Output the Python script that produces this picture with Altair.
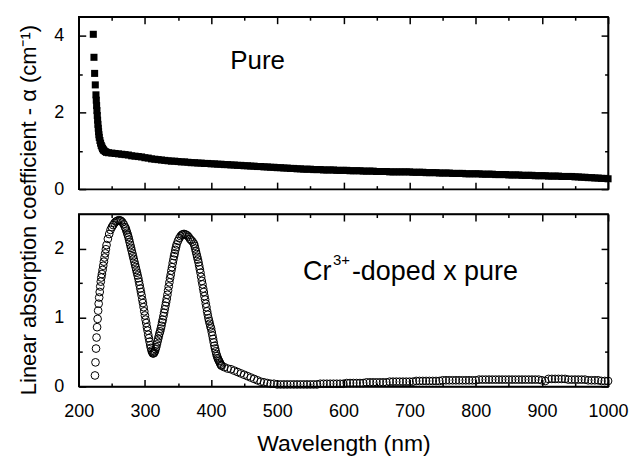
import altair as alt
import pandas as pd

FONT = "Liberation Sans"

# ---------------- axis tick values ----------------
x_ticks = [200, 250, 300, 350, 400, 450, 500, 550, 600, 650, 700, 750, 800, 850, 900, 950, 1000]
top_y_ticks = [0, 1, 2, 3, 4]
bot_y_ticks = [0, 0.5, 1, 1.5, 2]

# ---------------- Pure sample (filled squares) ----------------
pure_edge = [
    (222, 4.04), (223, 3.44), (224, 3.02), (225, 2.72), (226, 2.46), (226.5, 2.32),
    (227, 2.18), (227.5, 2.05), (228, 1.92), (228.5, 1.80), (229, 1.69), (229.5, 1.59),
    (230, 1.50), (230.5, 1.42), (231, 1.35), (232, 1.27), (233, 1.20), (234, 1.14),
    (235, 1.10), (236, 1.06), (237, 1.03), (238, 1.01), (240, 0.98), (242, 0.96),
    (245, 0.95),
]
pure_grid_nm = list(range(250, 1001, 5))
pure_grid_val = [
    0.94, 0.93, 0.92, 0.91, 0.90, 0.89, 0.87, 0.86, 0.85, 0.84,
    0.82, 0.81, 0.79, 0.78, 0.77, 0.76, 0.75, 0.74, 0.73, 0.73,
    0.72, 0.71, 0.71, 0.70, 0.69, 0.69, 0.68, 0.68, 0.67, 0.67,
    0.66, 0.66, 0.65, 0.65, 0.64, 0.64, 0.63, 0.63, 0.62, 0.62,
    0.61, 0.61, 0.60, 0.60, 0.59, 0.59, 0.58, 0.58, 0.57, 0.57,
    0.56, 0.56, 0.55, 0.55, 0.54, 0.54, 0.53, 0.53, 0.52, 0.52,
    0.52, 0.51, 0.51, 0.51, 0.50, 0.50, 0.50, 0.50, 0.49, 0.49,
    0.49, 0.49, 0.48, 0.48, 0.48, 0.48, 0.47, 0.47, 0.47, 0.47,
    0.46, 0.46, 0.46, 0.46, 0.45, 0.45, 0.45, 0.45, 0.45, 0.45,
    0.45, 0.44, 0.44, 0.44, 0.44, 0.43, 0.43, 0.43, 0.43, 0.42,
    0.42, 0.42, 0.42, 0.41, 0.41, 0.41, 0.41, 0.40, 0.40, 0.40,
    0.40, 0.40, 0.39, 0.39, 0.39, 0.39, 0.38, 0.38, 0.38, 0.38,
    0.37, 0.37, 0.37, 0.37, 0.36, 0.36, 0.36, 0.36, 0.35, 0.35,
    0.35, 0.35, 0.34, 0.34, 0.34, 0.34, 0.33, 0.33, 0.33, 0.33,
    0.32, 0.32, 0.31, 0.31, 0.30, 0.30, 0.29, 0.29, 0.28, 0.28,
    0.27,
]

# ---------------- Cr3+-doped x pure (open circles) ----------------
doped_peaks = [
    (224.5, 0.16), (225.3, 0.35), (226.1, 0.55), (226.9, 0.71), (227.7, 0.86),
    (228.5, 0.98), (229.3, 1.10), (230.1, 1.20), (230.9, 1.29), (231.7, 1.37),
    (232.5, 1.45), (233.3, 1.52), (234.1, 1.58), (235, 1.63), (236, 1.69),
    (237, 1.75), (238, 1.81), (239, 1.87), (240, 1.93), (241, 1.99), (242, 2.05),
    (244, 2.14), (246, 2.21), (248, 2.27), (250, 2.31), (252, 2.34), (254, 2.37),
    (256, 2.39), (258, 2.40), (260, 2.41), (262, 2.41), (264, 2.40), (266, 2.38),
    (268, 2.35), (270, 2.31), (271, 2.29), (272, 2.26), (273, 2.23), (274, 2.20),
    (275, 2.17), (276, 2.13), (277, 2.09), (278, 2.05), (279, 2.01), (280, 1.97),
    (281, 1.93), (282, 1.89), (283, 1.85), (284, 1.81), (285, 1.77), (286, 1.73),
    (287, 1.69), (288, 1.65), (289, 1.61), (290, 1.57), (291, 1.52), (292, 1.47),
    (293, 1.42), (294, 1.37), (295, 1.32), (296, 1.26), (297, 1.21), (298, 1.15),
    (299, 1.09), (300, 1.03), (301, 0.97), (302, 0.92), (303, 0.86), (304, 0.81),
    (305, 0.75), (306, 0.70), (307, 0.65), (308, 0.60), (309, 0.56), (310, 0.52),
    (311, 0.50), (312, 0.48), (313, 0.48), (314, 0.49), (315, 0.51), (316, 0.54),
    (317, 0.57), (318, 0.61), (319, 0.65), (320, 0.69), (321, 0.73), (322, 0.77),
    (323, 0.80), (324, 0.84), (325, 0.88), (326, 0.93), (327, 0.97), (328, 1.02),
    (329, 1.07), (330, 1.12), (331, 1.17), (332, 1.22), (333, 1.27), (334, 1.33),
    (335, 1.39), (336, 1.45), (337, 1.51), (338, 1.57), (339, 1.62), (340, 1.68),
    (341, 1.73), (342, 1.79), (343, 1.84), (344, 1.89), (345, 1.93), (346, 1.98),
    (347, 2.02), (348, 2.06), (350, 2.11), (352, 2.15), (354, 2.18), (356, 2.20),
    (358, 2.21), (360, 2.21), (362, 2.20), (364, 2.19), (366, 2.17), (368, 2.14),
    (370, 2.12), (372, 2.10), (374, 2.07), (375, 2.04), (376, 2.00), (377, 1.96),
    (378, 1.92), (379, 1.88), (380, 1.84), (381, 1.80), (382, 1.75), (383, 1.70),
    (384, 1.65), (385, 1.59), (386, 1.53), (387, 1.48), (388, 1.42), (389, 1.37),
    (390, 1.31), (391, 1.26), (392, 1.20), (393, 1.15), (394, 1.09), (395, 1.04),
    (396, 0.99), (397, 0.95), (398, 0.91), (399, 0.87), (400, 0.84), (401, 0.79),
    (402, 0.74), (403, 0.69), (404, 0.64), (405, 0.59), (406, 0.55), (407, 0.51),
    (408, 0.47), (409, 0.44), (410, 0.41), (411, 0.39), (412, 0.37), (413, 0.35),
    (414, 0.33), (415, 0.31), (416, 0.30),
]
doped_tail_nm = list(range(420, 1001, 5))
doped_tail_val = [
    0.28, 0.26, 0.25, 0.23, 0.21, 0.19,
    0.17, 0.15, 0.13, 0.11, 0.09, 0.07, 0.06, 0.05, 0.04, 0.04,
    0.03, 0.03, 0.03, 0.03, 0.03, 0.03, 0.03, 0.03, 0.03, 0.03,
    0.03, 0.03, 0.03, 0.04, 0.04, 0.04, 0.04, 0.04, 0.04, 0.04,
    0.04, 0.05, 0.05, 0.05, 0.05, 0.05, 0.05, 0.06, 0.06, 0.06,
    0.06, 0.06, 0.06, 0.06, 0.07, 0.07, 0.07, 0.07, 0.07, 0.07,
    0.07, 0.07, 0.08, 0.08, 0.08, 0.08, 0.08, 0.08, 0.08, 0.08,
    0.09, 0.09, 0.09, 0.09, 0.09, 0.09, 0.09, 0.09, 0.09, 0.09,
    0.09, 0.10, 0.10, 0.10, 0.10, 0.10, 0.10, 0.10, 0.10, 0.10,
    0.10, 0.10, 0.10, 0.10, 0.10, 0.10, 0.10, 0.10, 0.10, 0.10,
    0.09, 0.08, 0.11, 0.11, 0.11, 0.11, 0.11, 0.11, 0.10, 0.10,
    0.10, 0.10, 0.10, 0.10, 0.09, 0.09, 0.09, 0.09, 0.08, 0.08,
    0.08,
]

pure = pd.DataFrame(pure_edge + list(zip(pure_grid_nm, pure_grid_val)), columns=["nm", "alpha"])
doped = pd.DataFrame(doped_peaks + list(zip(doped_tail_nm, doped_tail_val)), columns=["nm", "alpha"])

# annotation anchors (data coordinates)
ann_top = pd.DataFrame({"nm": [429], "alpha": [3.14], "text": ["Pure"]})
ann_bot = pd.DataFrame({"nm": [539], "alpha": [1.54]})

X_DOMAIN = [200, 1000]
W, H = 531, 173

def tsize(test):
    return alt.ExprRef(expr=f"({test}) ? -7 : -3.5")

X_TEST = "datum.value % 100 === 0"
TOP_TEST = "datum.value % 2 === 0"
BOT_TEST = "datum.value % 1 === 0"

common = dict(
    grid=False, domainColor="black", domainWidth=1.5, tickColor="black", tickWidth=1.5,
    labelFont=FONT, labelFontSize=18, labelColor="black", labelFlush=False,
    titleFont=FONT, titleColor="black", titleFontWeight="normal",
)
Y_LABEL_PAD = 22

def xscale():
    return alt.Scale(domain=X_DOMAIN, nice=False, zero=False)

# ---------------- top panel ----------------
top_scale_y = alt.Scale(domain=[0, 4.5], nice=False)
top_pts = alt.Chart(pure).mark_square(size=50, color="black", opacity=1).encode(
    x=alt.X("nm:Q", scale=xscale(),
            axis=alt.Axis(orient="bottom", values=x_ticks, labels=False, title=None,
                          tickSize=tsize(X_TEST), **common)),
    y=alt.Y("alpha:Q", scale=top_scale_y,
            axis=alt.Axis(orient="left", values=top_y_ticks, tickSize=tsize(TOP_TEST),
                          labelExpr=f"({TOP_TEST}) ? datum.value : ''",
                          labelPadding=Y_LABEL_PAD,
                          title="Linear absorption coefficient - α (cm⁻¹)",
                          titleFontSize=22, titleX=-43, titleY=193.5, titleAngle=270,
                          titleAlign="center", titleBaseline="alphabetic", **common)),
)
top_txt = alt.Chart(ann_top).mark_text(
    align="left", baseline="alphabetic", font=FONT, fontSize=26, color="black"
).encode(
    x=alt.X("nm:Q", scale=xscale(),
            axis=alt.Axis(orient="top", values=x_ticks, labels=False, title=None,
                          tickSize=tsize(X_TEST), **common)),
    y=alt.Y("alpha:Q", scale=top_scale_y,
            axis=alt.Axis(orient="right", values=top_y_ticks, labels=False, title=None,
                          tickSize=tsize(TOP_TEST), **common)),
    text="text:N",
)
top = alt.layer(top_pts, top_txt).resolve_axis(x="independent", y="independent").properties(
    width=W, height=H)

# ---------------- bottom panel ----------------
bot_scale_y = alt.Scale(domain=[0, 2.5], nice=False)
bot_pts = alt.Chart(doped).mark_point(
    shape="circle", size=60, filled=False, color="black", strokeWidth=1, opacity=1
).encode(
    x=alt.X("nm:Q", scale=xscale(),
            axis=alt.Axis(orient="bottom", values=x_ticks, tickSize=tsize(X_TEST),
                          labelExpr=f"({X_TEST}) ? datum.value : ''", labelPadding=23,
                          title="Wavelength (nm)", titleFontSize=23, titleY=64,
                          titleBaseline="alphabetic", **common)),
    y=alt.Y("alpha:Q", scale=bot_scale_y,
            axis=alt.Axis(orient="left", values=bot_y_ticks, tickSize=tsize(BOT_TEST),
                          labelExpr=f"({BOT_TEST}) ? datum.value : ''",
                          labelPadding=Y_LABEL_PAD, title=None, **common)),
)
cr_main = alt.Chart(ann_bot).mark_text(
    align="left", baseline="alphabetic", font=FONT, fontSize=27, color="black", text="Cr"
).encode(
    x=alt.X("nm:Q", scale=xscale(),
            axis=alt.Axis(orient="top", values=x_ticks, labels=False, title=None,
                          tickSize=tsize(X_TEST), **common)),
    y=alt.Y("alpha:Q", scale=bot_scale_y,
            axis=alt.Axis(orient="right", values=bot_y_ticks, labels=False, title=None,
                          tickSize=tsize(BOT_TEST), **common)),
)
cr_sup = alt.Chart(ann_bot).mark_text(
    align="left", baseline="alphabetic", font=FONT, fontSize=15, color="black",
    text="3+", dx=30, dy=-15
).encode(x=alt.X("nm:Q", scale=xscale(), axis=None),
         y=alt.Y("alpha:Q", scale=bot_scale_y, axis=None))
cr_rest = alt.Chart(ann_bot).mark_text(
    align="left", baseline="alphabetic", font=FONT, fontSize=27, color="black",
    text="-doped x pure", dx=49
).encode(x=alt.X("nm:Q", scale=xscale(), axis=None),
         y=alt.Y("alpha:Q", scale=bot_scale_y, axis=None))

bot = alt.layer(bot_pts, cr_main, cr_sup, cr_rest).resolve_axis(
    x="independent", y="independent").properties(width=W, height=H)

chart = alt.vconcat(top, bot, spacing=25, bounds="flush").properties(
    padding={"left": 17, "top": 14, "right": 2, "bottom": 2},
    background="white",
).configure_view(stroke="black", strokeWidth=1.5)

chart.save("out.html", embed_options={"renderer": "svg", "actions": False})
